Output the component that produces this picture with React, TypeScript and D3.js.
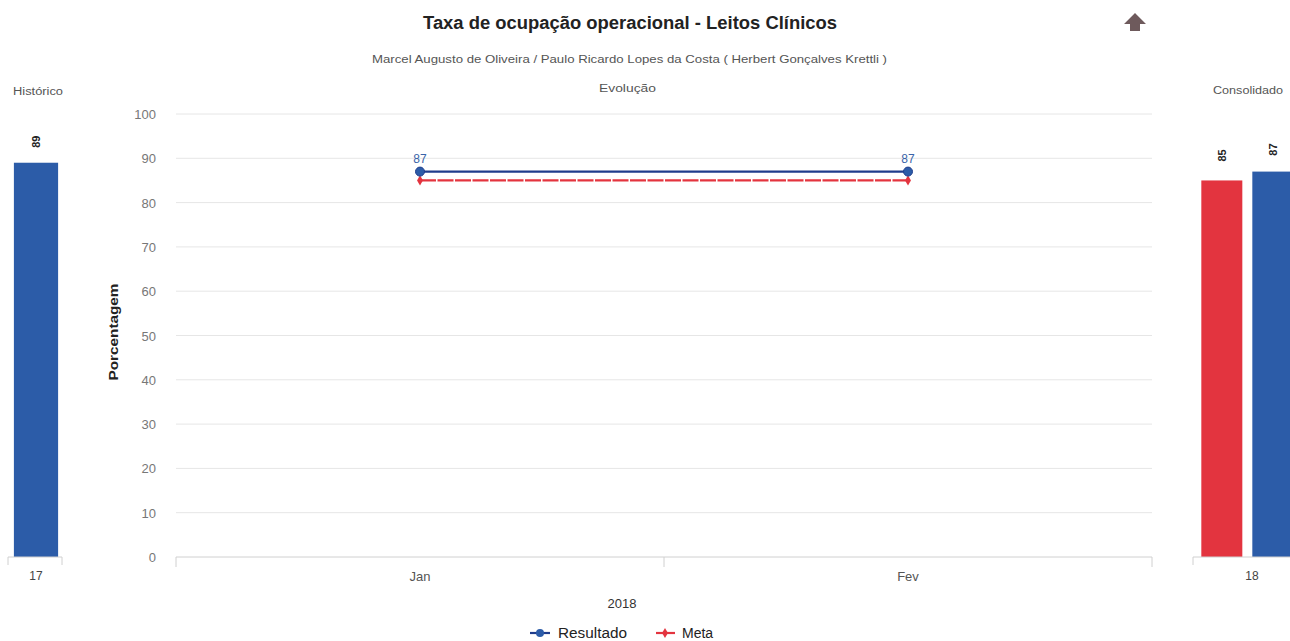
import React from "react";
import * as d3 from "d3";

const months = ["Jan", "Fev"];
const resultado = [87, 87];
const meta = [85, 85];
const histCategories = ["17"];
const histValues = [89];
const consCategories = ["18"];
const consMeta = [85];
const consResultado = [87];
const yTicks = [0, 10, 20, 30, 40, 50, 60, 70, 80, 90, 100];

const BLUE = "#2c5ca8";
const LINE_BLUE = "#1f3d8c";
const RED = "#e3343f";
const FONT = "'Liberation Sans', Arial, sans-serif";

export default function App() {
  const W = 1290, H = 641;
  const y = d3.scaleLinear().domain([0, 100]).range([557, 114]);
  const x = d3.scaleBand().domain(months).range([176, 1152]);
  const cx = (m: string) => (x(m) as number) + x.bandwidth() / 2;
  const lineGen = d3.line<number>().x((_, i) => cx(months[i])).y(d => y(d));

  const hx = d3.scaleBand().domain(histCategories).range([8, 64]).paddingInner(0.1).paddingOuter(0.12);
  const cxs = d3.scaleBand().domain(consCategories).range([1193, 1311]).paddingOuter(0.06);
  const cw = 41;

  return (
    <svg width={W} height={H} style={{ position: "absolute", left: 0, top: 0, fontFamily: FONT }}>
      <rect width={W} height={H} fill="#fff" />
      <text x={630} y={29} textAnchor="middle" fontSize={17.5} fontWeight="bold" fill="#222" textLength={414} lengthAdjust="spacingAndGlyphs">Taxa de ocupação operacional - Leitos Clínicos</text>
      <text x={629.5} y={63} textAnchor="middle" fontSize={11} fill="#555" textLength={515} lengthAdjust="spacingAndGlyphs">Marcel Augusto de Oliveira / Paulo Ricardo Lopes da Costa ( Herbert Gonçalves Krettli )</text>
      <text x={627.5} y={92} textAnchor="middle" fontSize={11} fill="#555" textLength={57} lengthAdjust="spacingAndGlyphs">Evolução</text>
      {/* arrow icon */}
      <path d="M1135,13 L1146,24 L1140,24 L1140,31 L1130,31 L1130,24 L1124,24 Z" fill="#6e5a5c" />

      {/* main chart grid */}
      {yTicks.map(t => (
        <g key={t}>
          {t > 0 && <line x1={176} x2={1152} y1={y(t)} y2={y(t)} stroke="#e6e6e6" strokeWidth={1} />}
          <text x={156} y={y(t) + 5} textAnchor="end" fontSize={13} fill="#777">{t}</text>
        </g>
      ))}
      <line x1={176} x2={1152} y1={y(0)} y2={y(0)} stroke="#d0d0d0" />
      {[176, 664, 1152].map(v => (
        <line key={v} x1={v} x2={v} y1={y(0)} y2={y(0) + 10} stroke="#d0d0d0" />
      ))}
      {months.map(m => (
        <text key={m} x={cx(m)} y={581} textAnchor="middle" fontSize={13} fill="#555">{m}</text>
      ))}
      <text x={622} y={608} textAnchor="middle" fontSize={13} fill="#333">2018</text>
      <text transform={`translate(118,332) rotate(-90)`} textAnchor="middle" fontSize={13} fontWeight="bold" fill="#222" textLength={97} lengthAdjust="spacingAndGlyphs">Porcentagem</text>

      <path d={lineGen(meta) || ""} fill="none" stroke={RED} strokeWidth={2.2} strokeDasharray="16,1.5" />
      <path d={lineGen(resultado) || ""} fill="none" stroke={LINE_BLUE} strokeWidth={2.2} />
      {meta.map((v, i) => (
        <path key={"m" + i} d={d3.symbol(d3.symbolDiamond, 30)() || ""} transform={`translate(${cx(months[i])},${y(v)})`} fill={RED} />
      ))}
      {resultado.map((v, i) => (
        <g key={"r" + i}>
          <circle cx={cx(months[i])} cy={y(v)} r={4.5} fill="#2c5ca8" stroke={LINE_BLUE} strokeWidth={1} />
          <text x={cx(months[i])} y={y(v) - 9} textAnchor="middle" fontSize={12} fill="#3a64a8">{v}</text>
        </g>
      ))}

      {/* legend */}
      <line x1={530} x2={550} y1={633} y2={633} stroke={LINE_BLUE} strokeWidth={2.2} />
      <circle cx={540} cy={633} r={4} fill="#2c5ca8" />
      <text x={558} y={638} fontSize={14} fill="#222" textLength={69} lengthAdjust="spacingAndGlyphs">Resultado</text>
      <line x1={656} x2={675} y1={633} y2={633} stroke={RED} strokeWidth={2.2} />
      <path d={d3.symbol(d3.symbolDiamond, 30)() || ""} transform="translate(665,633)" fill={RED} />
      <text x={682} y={638} fontSize={14} fill="#222">Meta</text>

      {/* Histórico */}
      <text x={38} y={95} textAnchor="middle" fontSize={10} fill="#555" textLength={50} lengthAdjust="spacingAndGlyphs">Histórico</text>
      {histCategories.map((c, i) => {
        const bx = hx(c) as number;
        const bw = hx.bandwidth();
        return (
          <g key={c}>
            <rect x={bx} y={y(histValues[i])} width={bw} height={y(0) - y(histValues[i])} fill={BLUE} />
            <text transform={`translate(${bx + bw / 2 + 4},${y(histValues[i]) - 21}) rotate(-90)`} textAnchor="middle" fontSize={11} fontWeight="bold" fill="#222">{histValues[i]}</text>
            <text x={bx + bw / 2} y={580} textAnchor="middle" fontSize={12} fill="#444">{c}</text>
          </g>
        );
      })}
      <line x1={8} x2={62} y1={557} y2={557} stroke="#d0d0d0" />
      <line x1={8} x2={8} y1={557} y2={565} stroke="#d0d0d0" />
      <line x1={62} x2={62} y1={557} y2={565} stroke="#d0d0d0" />

      {/* Consolidado */}
      <text x={1248} y={94} textAnchor="middle" fontSize={10.5} fill="#555" textLength={70} lengthAdjust="spacingAndGlyphs">Consolidado</text>
      {consCategories.map((c, i) => {
        const bx = (cxs(c) as number) + 2;
        return (
          <g key={c}>
            <rect x={bx} y={y(consMeta[i])} width={cw} height={y(0) - y(consMeta[i])} fill={RED} />
            <rect x={bx + cw + 10} y={y(consResultado[i])} width={cw} height={y(0) - y(consResultado[i])} fill={BLUE} />
            <text transform={`translate(${bx + cw / 2 + 4},${y(consMeta[i]) - 25}) rotate(-90)`} textAnchor="middle" fontSize={11} fontWeight="bold" fill="#222">{consMeta[i]}</text>
            <text transform={`translate(${bx + cw + 10 + cw / 2 + 4},${y(consResultado[i]) - 22}) rotate(-90)`} textAnchor="middle" fontSize={11} fontWeight="bold" fill="#222">{consResultado[i]}</text>
            <text x={1252} y={580} textAnchor="middle" fontSize={12} fill="#444">{c}</text>
          </g>
        );
      })}
      <line x1={1193} x2={1290} y1={557} y2={557} stroke="#d0d0d0" />
      <line x1={1193} x2={1193} y1={557} y2={565} stroke="#d0d0d0" />
    </svg>
  );
}
